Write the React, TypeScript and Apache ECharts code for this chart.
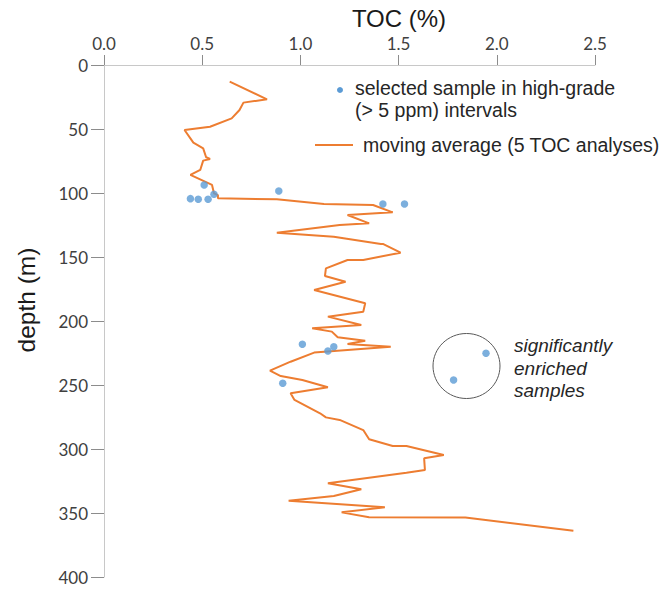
import React, { useEffect, useRef } from "react";
import * as echarts from "echarts";

// Moving average (5 TOC analyses): TOC (%) and depth (m), in drawing order
const avgToc = [
  0.64, 0.83, 0.71, 0.69, 0.65, 0.54, 0.41, 0.455, 0.505, 0.52, 0.54, 0.505, 0.49, 0.44,
  0.55, 0.56, 0.58, 0.58, 0.88, 1.12, 1.37, 1.47, 1.24, 1.35, 1.2, 0.88, 1.17, 1.41,
  1.42, 1.51, 1.32, 1.24, 1.13, 1.125, 1.23, 1.07, 1.33, 1.32, 1.14, 1.31, 1.06, 1.16,
  1.19, 1.33, 1.24, 1.46, 1.07, 0.95, 0.845, 0.9, 1.01, 1.14, 0.95, 0.97, 1.1, 1.13,
  1.2, 1.32, 1.35, 1.47, 1.54, 1.73, 1.63, 1.634, 1.54, 1.14, 1.31, 1.17, 0.94, 1.43,
  1.21, 1.35, 1.84, 2.39,
];
const avgDepth = [
  13, 26.8, 29.4, 35.2, 41.7, 48.2, 50.8, 60.7, 65.1, 72.1, 73.4, 74.7, 82, 85.9,
  93.7, 100.2, 101.6, 104.1, 104.9, 108.6, 109.4, 115.1, 117.2, 123.7, 125, 131, 134.1, 139.8,
  139.8, 146.6, 152.3, 152.3, 158.9, 164.8, 169.3, 175.8, 186.2, 192.7, 196.6, 203.1, 205.7, 208.3,
  212.7, 215.4, 218, 220.1, 224.7, 231.8, 238.8, 243, 246.1, 251.8, 256.5, 261.7, 272.1, 275.3,
  277.3, 285.2, 292.4, 297.7, 297.7, 304.7, 307.3, 316.4, 318.6, 326.8, 331.5, 336.7, 340.4, 345.6,
  349.5, 353.4, 353.6, 363.8,
];

// Selected samples in high-grade (> 5 ppm) intervals
const sampleToc = [0.51, 0.56, 0.44, 0.48, 0.53, 0.89, 1.42, 1.53, 1.01, 1.17, 1.14, 0.91, 1.945, 1.78];
const sampleDepth = [93.7, 101, 104.4, 104.9, 104.9, 98.4, 108.6, 108.6, 218.2, 220.1, 223.4, 248.7, 225.2, 246.1];

const xTicks = [0, 0.5, 1.0, 1.5, 2.0, 2.5];
const yTicks = [0, 50, 100, 150, 200, 250, 300, 350, 400];

const ORANGE = "#ed7d31";
const BLUE = "#5b9bd5";
const AXIS_FONT = "Lato";
const TEXT_FONT = "Liberation Sans";

export default function App() {
  const ref = useRef<HTMLDivElement>(null);

  useEffect(() => {
    if (!ref.current) return;
    const chart = echarts.init(ref.current, undefined, { renderer: "svg" });
    const lineData = avgToc.map((t, i) => [t, avgDepth[i]]);
    const scatterData = sampleToc.map((t, i) => [t, sampleDepth[i]]);

    chart.setOption({
      animation: false,
      backgroundColor: "#ffffff",
      grid: { left: 104, top: 65, width: 491, height: 512, containLabel: false },
      xAxis: {
        type: "value",
        position: "top",
        min: xTicks[0],
        max: xTicks[xTicks.length - 1],
        interval: 0.5,
        axisLine: { show: true, lineStyle: { color: "#c8c8c8", width: 1 } },
        axisTick: { show: true, length: 10, lineStyle: { color: "#8c8c8c" } },
        axisLabel: {
          fontFamily: AXIS_FONT,
          fontSize: 17,
          color: "#404040",
          margin: 13,
          formatter: (v: number) => v.toFixed(1),
        },
        splitLine: { show: false },
      },
      yAxis: {
        type: "value",
        inverse: true,
        min: yTicks[0],
        max: yTicks[yTicks.length - 1],
        interval: 50,
        axisLine: { show: true, lineStyle: { color: "#c8c8c8", width: 1 } },
        axisTick: { show: true, length: 13, lineStyle: { color: "#8c8c8c" } },
        axisLabel: { fontFamily: AXIS_FONT, fontSize: 17, color: "#404040", margin: 16 },
        splitLine: { show: false },
      },
      series: [
        {
          type: "line",
          data: lineData,
          showSymbol: false,
          lineStyle: { color: ORANGE, width: 2 },
          z: 2,
        },
        {
          type: "scatter",
          data: scatterData,
          symbolSize: 7.5,
          itemStyle: { color: BLUE },
          z: 3,
        },
      ],
      graphic: [
        {
          type: "text",
          x: 399,
          y: 18,
          style: {
            text: "TOC (%)",
            font: `24px "${TEXT_FONT}"`,
            fill: "#1a1a1a",
            align: "center",
            verticalAlign: "middle",
          },
        },
        {
          type: "text",
          x: 26,
          y: 300,
          rotation: Math.PI / 2,
          style: {
            text: "depth (m)",
            font: `24.5px "${TEXT_FONT}"`,
            fill: "#1a1a1a",
            align: "center",
            verticalAlign: "middle",
          },
        },
        { type: "circle", shape: { cx: 340, cy: 90, r: 3 }, style: { fill: BLUE } },
        {
          type: "text",
          x: 355,
          y: 88,
          style: {
            text: "selected sample in high-grade",
            font: `19.5px "${TEXT_FONT}"`,
            fill: "#262626",
            verticalAlign: "middle",
          },
        },
        {
          type: "text",
          x: 355,
          y: 110,
          style: {
            text: "(> 5 ppm) intervals",
            font: `19.5px "${TEXT_FONT}"`,
            fill: "#262626",
            verticalAlign: "middle",
          },
        },
        {
          type: "line",
          shape: { x1: 315, y1: 145, x2: 353, y2: 145 },
          style: { stroke: ORANGE, lineWidth: 2 },
        },
        {
          type: "text",
          x: 363,
          y: 145,
          style: {
            text: "moving average (5 TOC analyses)",
            font: `19.5px "${TEXT_FONT}"`,
            fill: "#262626",
            verticalAlign: "middle",
          },
        },
        {
          type: "ellipse",
          shape: { cx: 466.5, cy: 366, rx: 33.5, ry: 32.5 },
          style: { fill: "none", stroke: "#595959", lineWidth: 1 },
        },
        {
          type: "text",
          x: 514,
          y: 345,
          style: {
            text: "significantly",
            font: `italic 19px "${TEXT_FONT}"`,
            fill: "#262626",
            verticalAlign: "middle",
          },
        },
        {
          type: "text",
          x: 514,
          y: 368,
          style: {
            text: "enriched",
            font: `italic 19px "${TEXT_FONT}"`,
            fill: "#262626",
            verticalAlign: "middle",
          },
        },
        {
          type: "text",
          x: 514,
          y: 390,
          style: {
            text: "samples",
            font: `italic 19px "${TEXT_FONT}"`,
            fill: "#262626",
            verticalAlign: "middle",
          },
        },
      ],
    });

    return () => chart.dispose();
  }, []);

  return (
    <div
      ref={ref}
      style={{ position: "absolute", left: 0, top: 0, width: 665, height: 589, background: "#fff" }}
    />
  );
}
